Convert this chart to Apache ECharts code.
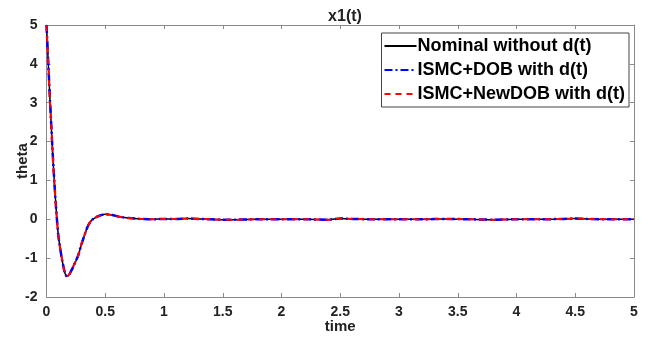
<!DOCTYPE html>
<html><head><meta charset="utf-8">
<script src="https://cdn.jsdelivr.net/npm/echarts@6/dist/echarts.min.js"></script>
<style>html,body{margin:0;padding:0;background:#fff}#c{width:648px;height:344px}</style>
</head><body><div id="c"></div>
<script>
const timeVals = [0,0.01,0.02,0.03,0.04,0.05,0.06,0.07,0.08,0.09,0.10,0.11,0.12,0.13,0.14,0.15,0.16,0.17,0.18,0.19,0.20,0.21,0.22,0.23,0.25,0.27,0.30,0.33,0.35,0.37,0.39,0.42,0.45,0.48,0.50,0.53,0.56,0.60,0.65,0.70,0.80,0.90,1.0,1.1,1.2,1.3,1.4,1.5,1.6,1.8,2.0,2.2,2.4,2.5,2.6,2.8,3.0,3.2,3.4,3.6,3.8,4.0,4.2,4.4,4.5,4.6,4.8,5.0];
const nominal  = [5,4.35,3.7,3.05,2.45,1.85,1.3,0.8,0.35,-0.05,-0.4,-0.62,-0.82,-1.0,-1.16,-1.3,-1.41,-1.46,-1.46,-1.43,-1.39,-1.33,-1.27,-1.2,-1.07,-0.93,-0.62,-0.35,-0.19,-0.08,-0.01,0.05,0.09,0.12,0.13,0.125,0.11,0.08,0.05,0.03,0.01,0.0,0.01,0.01,0.02,0.01,0.0,-0.01,-0.01,0.0,0.0,0.0,-0.01,0.02,0.01,0.0,0.0,0.0,0.01,0.0,-0.01,0.0,0.0,0.01,0.02,0.01,0.0,0.0];
const ismcDob  = [5,4.35,3.7,3.05,2.45,1.85,1.3,0.8,0.35,-0.05,-0.4,-0.62,-0.82,-1.0,-1.16,-1.3,-1.41,-1.46,-1.46,-1.43,-1.39,-1.33,-1.27,-1.2,-1.07,-0.93,-0.62,-0.35,-0.19,-0.08,-0.01,0.05,0.09,0.12,0.13,0.125,0.11,0.08,0.05,0.03,0.01,0.0,0.01,0.01,0.02,0.01,0.0,-0.01,-0.01,0.0,0.0,0.0,-0.01,0.02,0.01,0.0,0.0,0.0,0.01,0.0,-0.01,0.0,0.0,0.01,0.02,0.01,0.0,0.0];
const ismcNew  = [5,4.35,3.7,3.05,2.45,1.85,1.3,0.8,0.35,-0.05,-0.4,-0.62,-0.82,-1.0,-1.16,-1.3,-1.41,-1.46,-1.46,-1.43,-1.39,-1.33,-1.27,-1.2,-1.07,-0.93,-0.62,-0.35,-0.19,-0.08,-0.01,0.05,0.09,0.12,0.13,0.125,0.11,0.08,0.05,0.03,0.01,0.0,0.01,0.01,0.02,0.01,0.0,-0.01,-0.01,0.0,0.0,0.0,-0.01,0.02,0.01,0.0,0.0,0.0,0.01,0.0,-0.01,0.0,0.0,0.01,0.02,0.01,0.0,0.0];
const seriesNames = ['Nominal without d(t)','ISMC+DOB with d(t)','ISMC+NewDOB with d(t)'];

const pair = arr => timeVals.map((t,i)=>[t,arr[i]]);
const axisCol = '#8a8a8a';
const lblStyle = {color:'#222', fontSize:14, fontWeight:'bold', fontFamily:'Liberation Sans, Arial'};
const chart = echarts.init(document.getElementById('c'));
chart.setOption({
  animation:false,
  backgroundColor:'#fff',
  title:{text:'x1(t)', left:340, top:4, textAlign:'center',
    textStyle:{fontSize:16, fontWeight:'bold', color:'#222', fontFamily:'Liberation Sans, Arial'}},
  grid:{left:46.5, right:14, top:25, bottom:47, show:false, containLabel:false, outerBoundsMode:'none'},
  legend:{
    orient:'vertical', right:19, top:33, itemWidth:32, itemHeight:18, itemGap:6,
    backgroundColor:'#fff', borderColor:'#444', borderWidth:1, borderRadius:0, padding:[4,4,4,2],
    itemStyle:{opacity:0, borderWidth:0},
    textStyle:{fontSize:18, lineHeight:18, fontWeight:'bold', color:'#000', fontFamily:'Liberation Sans, Arial', padding:[0,0,0,-4]},
    data:seriesNames
  },
  xAxis:[{
    type:'value', min:0, max:5, interval:0.5,
    name:'time', nameLocation:'middle', nameGap:22, nameMoveOverlap:false,
    nameTextStyle:{...lblStyle, fontSize:15},
    axisLine:{onZero:false, lineStyle:{color:axisCol}},
    axisTick:{inside:true, length:4, lineStyle:{color:axisCol}},
    axisLabel:{...lblStyle, margin:8},
    splitLine:{show:false}
  },{
    type:'value', min:0, max:5, interval:0.5, position:'top',
    axisLine:{onZero:false, lineStyle:{color:axisCol}},
    axisTick:{inside:true, length:4, lineStyle:{color:axisCol}},
    axisLabel:{show:false}, splitLine:{show:false}
  }],
  yAxis:[{
    type:'value', min:-2, max:5, interval:1,
    name:'theta', nameLocation:'middle', nameGap:16, nameRotate:90, nameMoveOverlap:false,
    nameTextStyle:{...lblStyle, fontSize:15},
    axisLine:{show:true, onZero:false, lineStyle:{color:axisCol}},
    axisTick:{show:true, inside:true, length:4, lineStyle:{color:axisCol}},
    axisLabel:{...lblStyle, margin:9},
    splitLine:{show:false}
  },{
    type:'value', min:-2, max:5, interval:1, position:'right',
    axisLine:{show:true, onZero:false, lineStyle:{color:axisCol}},
    axisTick:{show:true, inside:true, length:4, lineStyle:{color:axisCol}},
    axisLabel:{show:false}, splitLine:{show:false}
  }],
  series:[
    {name:seriesNames[0], type:'line', data:pair(nominal), smooth:0.2, symbol:'none',
     lineStyle:{color:'#000', width:1.5, type:'solid'}, itemStyle:{color:'#000'}, z:2},
    {name:seriesNames[1], type:'line', data:pair(ismcDob), smooth:0.2, symbol:'none',
     lineStyle:{color:'#0000ff', width:2.5, type:[8,3,2,3]}, itemStyle:{color:'#0000ff'}, z:3},
    {name:seriesNames[2], type:'line', data:pair(ismcNew), smooth:0.2, symbol:'none',
     lineStyle:{color:'#ff0000', width:2, type:[6,5]}, itemStyle:{color:'#ff0000'}, z:4}
  ]
});
</script></body></html>
